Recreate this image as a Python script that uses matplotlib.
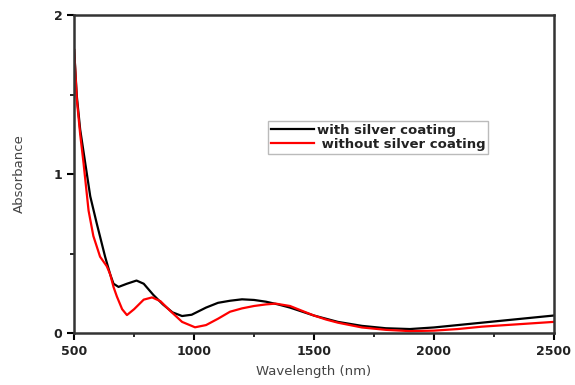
import numpy as np
import matplotlib
matplotlib.use('Agg')
import matplotlib.pyplot as plt
from matplotlib.ticker import MultipleLocator

# with silver coating (black)
wl_with = [500, 511, 525, 546, 567, 594, 629, 650, 664, 685, 720, 760, 790, 830, 870, 910,
           950, 990, 1050, 1100, 1150, 1200, 1250, 1300, 1350, 1400, 1450, 1500, 1550,
           1600, 1700, 1800, 1900, 2000, 2100, 2200, 2300, 2400, 2500]
abs_with = [1.78, 1.49, 1.28, 1.07, 0.86, 0.69, 0.48, 0.37, 0.31, 0.29, 0.31, 0.33, 0.31,
            0.24, 0.18, 0.13, 0.107, 0.115, 0.16, 0.19, 0.203, 0.212, 0.208, 0.197, 0.18,
            0.16, 0.135, 0.11, 0.09, 0.07, 0.045, 0.03, 0.025, 0.035, 0.05, 0.065, 0.08,
            0.095, 0.11]

# without silver coating (red)
wl_without = [500, 511, 525, 539, 560, 580, 608, 636, 650, 664, 678, 700, 720, 750, 790, 825,
              860, 900, 950, 1004, 1050, 1100, 1150, 1200, 1250, 1300, 1340, 1400, 1450,
              1500, 1550, 1600, 1700, 1800, 1900, 2000, 2100, 2200, 2300, 2400, 2500]
abs_without = [1.78, 1.47, 1.25, 1.07, 0.77, 0.61, 0.48, 0.42, 0.37, 0.29, 0.23, 0.15, 0.113,
               0.15, 0.21, 0.224, 0.20, 0.14, 0.07, 0.036, 0.05, 0.09, 0.134, 0.155, 0.17,
               0.18, 0.185, 0.17, 0.14, 0.11, 0.085, 0.065, 0.035, 0.02, 0.012, 0.015,
               0.025, 0.04, 0.05, 0.06, 0.07]

fig = plt.figure(figsize=(5.75, 3.85), dpi=100)
ax = fig.add_axes([0.129, 0.135, 0.834, 0.826])

ax.plot(wl_with, abs_with, color='black', lw=1.6, label='with silver coating')
ax.plot(wl_without, abs_without, color='red', lw=1.6, label=' without silver coating')

ax.set_xlim(500, 2500)
ax.set_ylim(0, 2)
ax.xaxis.set_major_locator(MultipleLocator(500))
ax.xaxis.set_minor_locator(MultipleLocator(250))
ax.yaxis.set_major_locator(MultipleLocator(1))
ax.yaxis.set_minor_locator(MultipleLocator(0.5))
ax.tick_params(which='major', direction='out', length=5, width=1.5, labelsize=9)
ax.tick_params(which='minor', direction='out', length=3, width=1.2)
for lab in ax.get_xticklabels() + ax.get_yticklabels():
    lab.set_fontweight('bold')
    lab.set_color('#222222')
for sp in ax.spines.values():
    sp.set_linewidth(1.8)
    sp.set_color('#333333')

ax.set_xlabel('Wavelength (nm)', fontsize=9.5, color='#444444', labelpad=5)
ax.set_ylabel('Absorbance', fontsize=9.5, color='#444444', labelpad=20)

leg = ax.legend(loc='upper left', bbox_to_anchor=(0.404, 0.667),
                prop={'weight': 'bold', 'size': 9.5}, frameon=True, fancybox=False,
                edgecolor='#aaaaaa', handlelength=3.3, handletextpad=0.2,
                borderpad=0.2, labelspacing=0.1, borderaxespad=0)
leg.get_frame().set_linewidth(1.0)
for t in leg.get_texts():
    t.set_color('#222222')

fig.savefig('out.png', dpi=100)
